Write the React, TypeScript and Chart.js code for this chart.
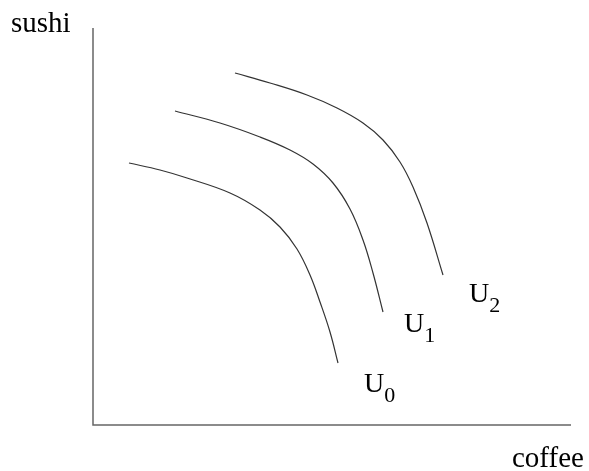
import React, { useEffect, useRef } from "react";
import { Chart, registerables } from "chart.js";

Chart.register(...registerables);

// Indifference curves (coffee on x, sushi on y), arbitrary units
const u0Coffee = [36, 67, 94, 137, 167, 187, 204, 217, 227, 237, 245];
const u0Sushi = [262, 255, 247, 232, 215, 198, 176, 150, 123, 93, 62];
const u1Coffee = [82, 127, 167, 197, 220, 240, 257, 270, 280, 290];
const u1Sushi = [314, 302, 288, 275, 261, 242, 216, 185, 152, 113];
const u2Coffee = [142, 177, 214, 244, 270, 290, 307, 320, 334, 350];
const u2Sushi = [352, 342, 330, 317, 302, 285, 263, 238, 202, 150];

const curveNames = ["U", "U", "U"];
const curveSubs = ["0", "1", "2"];
const labelCoffee = [271, 311, 376];
const labelSushi = [33, 93, 123];

const xAxisTitle = "coffee";
const yAxisTitle = "sushi";
const xMax = 478;
const yMax = 397;

function zip(xs: number[], ys: number[]) {
  return xs.map((x, i) => ({ x, y: ys[i] }));
}

const decorPlugin = {
  id: "decor",
  afterDatasetsDraw(chart: any) {
    const { ctx, chartArea, scales } = chart;
    const { left, right, top, bottom } = chartArea;
    ctx.save();
    // axes
    ctx.strokeStyle = "#666";
    ctx.lineWidth = 1.5;
    ctx.beginPath();
    ctx.moveTo(left, top);
    ctx.lineTo(left, bottom);
    ctx.lineTo(right, bottom);
    ctx.stroke();
    // axis titles
    ctx.fillStyle = "#000";
    ctx.textBaseline = "alphabetic";
    ctx.textAlign = "left";
    ctx.font = '29px "Liberation Serif", serif';
    ctx.fillText(yAxisTitle, 11, 32);
    ctx.fillText(xAxisTitle, 512, 467);
    // curve labels
    for (let i = 0; i < curveNames.length; i++) {
      const px = scales.x.getPixelForValue(labelCoffee[i]);
      const py = scales.y.getPixelForValue(labelSushi[i]);
      ctx.font = '28px "Liberation Serif", serif';
      ctx.fillText(curveNames[i], px, py);
      const w = ctx.measureText(curveNames[i]).width;
      ctx.font = '22px "Liberation Serif", serif';
      ctx.fillText(curveSubs[i], px + w, py + 10);
    }
    ctx.restore();
  },
};

export default function App() {
  const ref = useRef<HTMLCanvasElement | null>(null);
  useEffect(() => {
    if (!ref.current) return;
    const lineStyle = {
      borderColor: "#333",
      borderWidth: 1.2,
      pointRadius: 0,
      fill: false,
      tension: 0.4,
      clip: false as any,
    };
    const chart = new Chart(ref.current, {
      type: "line",
      data: {
        datasets: [
          { label: "U0", data: zip(u0Coffee, u0Sushi), ...lineStyle },
          { label: "U1", data: zip(u1Coffee, u1Sushi), ...lineStyle },
          { label: "U2", data: zip(u2Coffee, u2Sushi), ...lineStyle },
        ],
      },
      options: {
        animation: false,
        responsive: false,
        devicePixelRatio: 1,
        layout: { padding: { left: 93, right: 18, top: 28, bottom: 46 } },
        plugins: { legend: { display: false }, tooltip: { enabled: false } },
        scales: {
          x: { type: "linear", min: 0, max: xMax, display: false },
          y: { type: "linear", min: 0, max: yMax, display: false },
        },
      },
      plugins: [decorPlugin],
    });
    return () => chart.destroy();
  }, []);
  return (
    <div style={{ position: "absolute", left: 0, top: 0, width: 589, height: 471, background: "#fff" }}>
      <canvas ref={ref} width={589} height={471} style={{ width: 589, height: 471 }} />
    </div>
  );
}
